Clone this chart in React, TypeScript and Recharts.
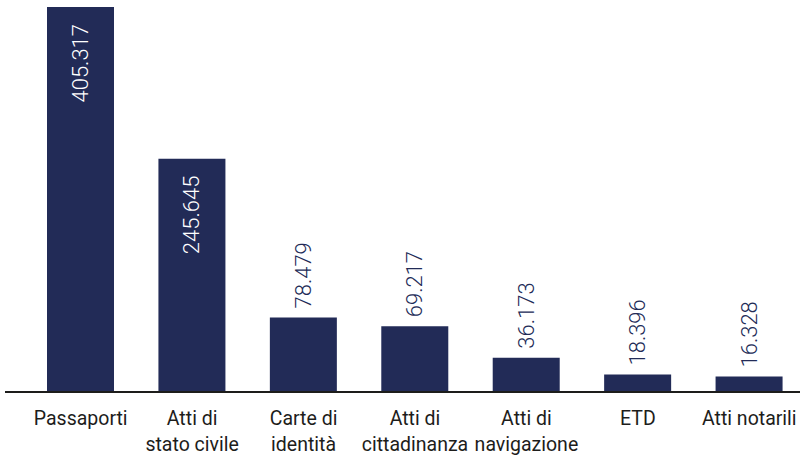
import { BarChart, Bar, XAxis, YAxis, LabelList } from "recharts";

const categories = [
  "Passaporti",
  "Atti di\nstato civile",
  "Carte di\nidentità",
  "Atti di\ncittadinanza",
  "Atti di\nnavigazione",
  "ETD",
  "Atti notarili",
];
const values = [405317, 245645, 78479, 69217, 36173, 18396, 16328];
const valueLabels = ["405.317", "245.645", "78.479", "69.217", "36.173", "18.396", "16.328"];

const NAVY = "#222b57";
const FONT = "Roboto, 'Open Sans', sans-serif";

const data = categories.map((name, i) => ({ name, value: values[i], label: valueLabels[i] }));

const CategoryTick = (props: any) => {
  const { x, y, payload } = props;
  const lines = String(payload.value).split("\n");
  return (
    <text x={x} y={y} textAnchor="middle" fill="#1d1d1b" fontSize={19.5} fontFamily={FONT}>
      {lines.map((line, i) => (
        <tspan key={i} x={x} dy={i === 0 ? 33 : 26}>
          {line}
        </tspan>
      ))}
    </text>
  );
};

const ValueLabel = (props: any) => {
  const { x, y, width, index } = props;
  const cx = x + width / 2;
  const text = valueLabels[index];
  const inside = values[index] > 200000;
  if (inside) {
    return (
      <text
        transform={`translate(${cx}, ${y + 17}) rotate(-90)`}
        textAnchor="end"
        dominantBaseline="central"
        fill="#ffffff"
        fontSize={22}
        fontWeight={300}
        fontFamily={FONT}
      >
        {text}
      </text>
    );
  }
  return (
    <text
      transform={`translate(${cx}, ${y - 9}) rotate(-90)`}
      textAnchor="start"
      dominantBaseline="central"
      fill={NAVY}
      fontSize={22}
      fontWeight={300}
      fontFamily={FONT}
    >
      {text}
    </text>
  );
};

export default function App() {
  return (
    <div style={{ position: "absolute", left: 0, top: 0, width: 800, height: 457, overflow: "hidden", background: "#fff" }}>
      <BarChart
        width={805}
        height={457}
        data={data}
        margin={{ top: 7, right: 0, bottom: 0, left: 5 }}
        barSize={67}
      >
        <XAxis
          dataKey="name"
          height={65}
          interval={0}
          padding={{ left: 20, right: 0 }}
          axisLine={false}
          tickLine={false}
          tickSize={0}
          tickMargin={0}
          tick={<CategoryTick />}
        />
        <YAxis hide domain={[0, "dataMax"]} />
        <Bar dataKey="value" fill={NAVY} isAnimationActive={false}>
          <LabelList dataKey="label" content={<ValueLabel />} />
        </Bar>
      </BarChart>
      {/* baseline runs past the first band, so it is drawn outside the axis */}
      <div style={{ position: "absolute", left: 5, right: 0, top: 391, height: 2, background: "#1d1d1b" }} />
    </div>
  );
}
